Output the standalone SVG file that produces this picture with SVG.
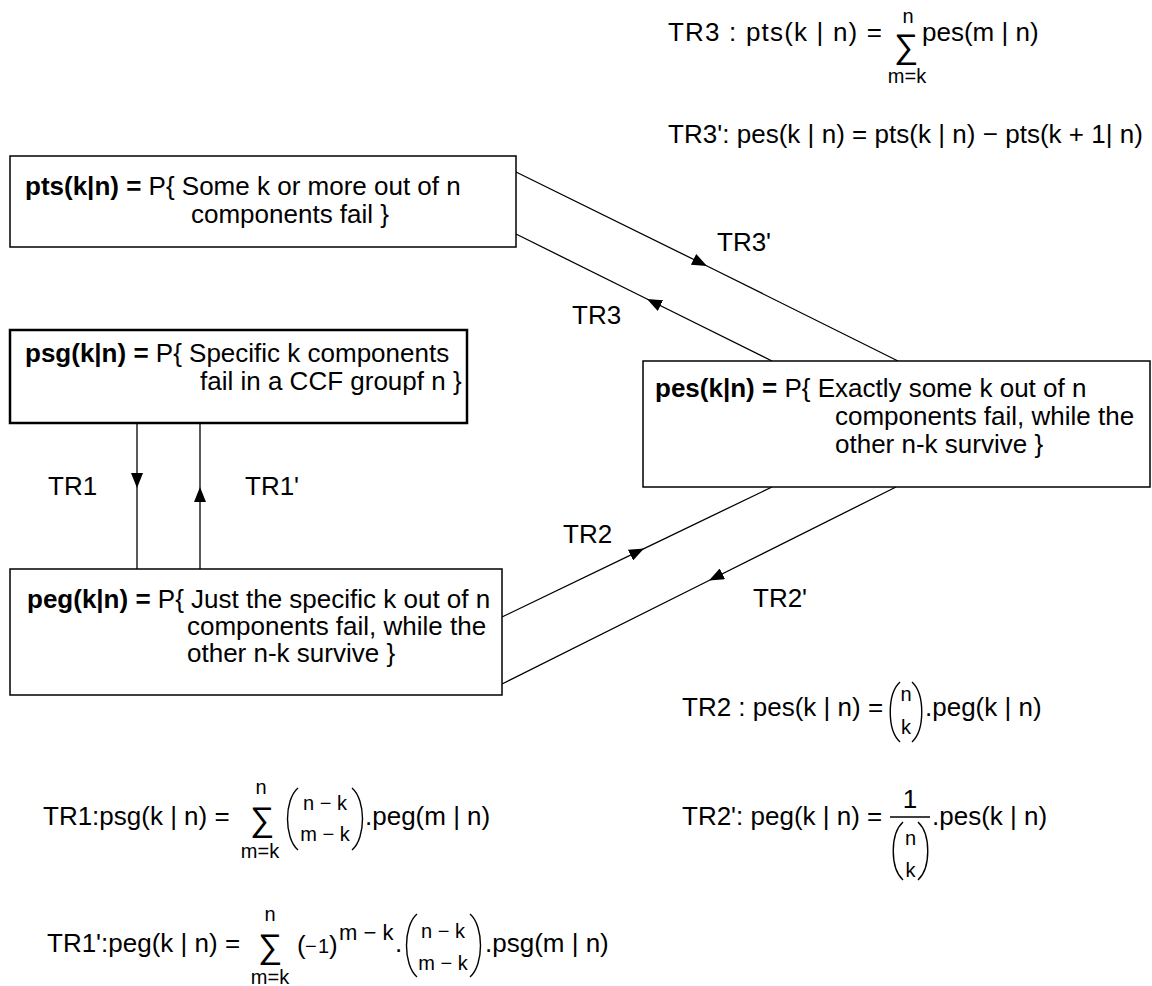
<svg xmlns="http://www.w3.org/2000/svg" width="1152" height="986" viewBox="0 0 1152 986">
  <style>
    text { font-family: "Liberation Sans", Arial, "DejaVu Sans", sans-serif; fill: #000; }
    .t { font-size: 26px; }
    .s { font-size: 20px; }
    .sig { font-size: 34px; }
    .b { font-weight: bold; }
    .mid { text-anchor: middle; }
    .box { fill: #fff; stroke: #000; stroke-width: 1.5; }
    .box2 { fill: #fff; stroke: #000; stroke-width: 2.5; }
    .con { fill: none; stroke: #000; stroke-width: 1.3; marker-mid: url(#ah); }
    .par { fill: none; stroke: #000; stroke-width: 1.4; }
  </style>
  <defs>
    <marker id="ah" markerUnits="userSpaceOnUse" viewBox="0 0 15 12" markerWidth="15" markerHeight="12" refX="15" refY="6" orient="auto">
      <path d="M0,0 L15,6 L0,12 z" fill="#000"/>
    </marker>
  </defs>
  <rect width="1152" height="986" fill="#fff"/>

  <!-- transition connectors -->
  <g id="connectors">
    <path class="con" d="M137,423 L137,488 L137,569"/>
    <path class="con" d="M200,569 L200,487 L200,423"/>
    <path class="con" d="M516,172 L707,266 L898,361"/>
    <path class="con" d="M772,361 L647,299 L516,234"/>
    <path class="con" d="M502,617 L644,548.6 L772,487"/>
    <path class="con" d="M896,487 L709,580.5 L502,684"/>
    <text class="t" x="717" y="251">TR3'</text>
    <text class="t" x="572" y="324">TR3</text>
    <text class="t" x="563" y="543">TR2</text>
    <text class="t" x="753" y="607">TR2'</text>
    <text class="t" x="48" y="495">TR1</text>
    <text class="t" x="245" y="495">TR1'</text>
  </g>

  <!-- probability nodes -->
  <g id="node-pts">
    <rect class="box" x="10" y="156" width="506" height="91"/>
    <text class="t" x="25" y="195"><tspan class="b">pts(k|n) =</tspan> P{ Some k or more out of n</text>
    <text class="t" x="191" y="223">components fail }</text>
  </g>
  <g id="node-psg">
    <rect class="box2" x="10" y="330" width="457" height="93"/>
    <text class="t" x="25" y="362"><tspan class="b">psg(k|n) =</tspan> P{ Specific k components</text>
    <text class="t" x="200" y="390">fail in a CCF groupf n }</text>
  </g>
  <g id="node-pes">
    <rect class="box" x="643" y="361" width="507" height="126"/>
    <text class="t" x="655" y="397"><tspan class="b">pes(k|n) =</tspan> P{ Exactly some k out of n</text>
    <text class="t" x="835" y="425">components fail, while the</text>
    <text class="t" x="835" y="453">other n-k survive }</text>
  </g>
  <g id="node-peg">
    <rect class="box" x="10" y="569" width="492" height="126"/>
    <text class="t" x="27" y="608"><tspan class="b">peg(k|n) =</tspan> P{ Just the specific k out of n</text>
    <text class="t" x="187" y="635">components fail, while the</text>
    <text class="t" x="187" y="662">other n-k survive }</text>
  </g>

  <!-- TR3 / TR3' formulas -->
  <g id="eq-tr3">
    <text class="t" x="668" y="41" textLength="214" lengthAdjust="spacing">TR3 :  pts(k | n) =</text>
    <text class="s mid" x="908" y="23">n</text>
    <text class="sig mid" x="906" y="58">∑</text>
    <text class="s mid" x="907" y="83">m=k</text>
    <text class="t" x="922" y="41">pes(m | n)</text>
  </g>
  <g id="eq-tr3p">
    <text class="t" x="668" y="143" textLength="475" lengthAdjust="spacing">TR3':  pes(k | n) = pts(k | n) − pts(k + 1| n)</text>
  </g>

  <!-- TR2 / TR2' formulas -->
  <g id="eq-tr2">
    <text class="t" x="682" y="716">TR2 :  pes(k | n) =</text>
    <path class="par" d="M900,682 C887,694 887,730 900,742"/>
    <text class="s mid" x="906" y="701">n</text>
    <text class="s mid" x="906" y="734">k</text>
    <path class="par" d="M912,682 C925,694 925,730 912,742"/>
    <text class="t" x="925" y="716">.peg(k | n)</text>
  </g>
  <g id="eq-tr2p">
    <text class="t" x="682" y="825">TR2':  peg(k | n) =</text>
    <text class="t mid" x="910" y="808">1</text>
    <line x1="890" y1="817" x2="930" y2="817" stroke="#000" stroke-width="1.5"/>
    <path class="par" d="M903,822 C890,834 890,868 903,880"/>
    <text class="s mid" x="910.5" y="845">n</text>
    <text class="s mid" x="910.5" y="877">k</text>
    <path class="par" d="M918,822 C931,834 931,868 918,880"/>
    <text class="t" x="932" y="825">.pes(k | n)</text>
  </g>

  <!-- TR1 / TR1' formulas -->
  <g id="eq-tr1">
    <text class="t" x="43" y="825">TR1:psg(k | n) =</text>
    <text class="s mid" x="261" y="794">n</text>
    <text class="sig mid" x="262" y="831">∑</text>
    <text class="s mid" x="260" y="858">m=k</text>
    <path class="par" d="M298,788 C284,800 284,838 298,850"/>
    <text class="s mid" x="325" y="810">n − k</text>
    <text class="s mid" x="325" y="841">m − k</text>
    <path class="par" d="M352,788 C366,800 366,838 352,850"/>
    <text class="t" x="365" y="825">.peg(m | n)</text>
  </g>
  <g id="eq-tr1p">
    <text class="t" x="47" y="952">TR1':peg(k | n) =</text>
    <text class="s mid" x="270" y="921">n</text>
    <text class="sig mid" x="270" y="958">∑</text>
    <text class="s mid" x="270" y="984">m=k</text>
    <text class="t" x="297" y="954">(</text>
    <text class="s" x="305" y="953">−</text>
    <text class="s" x="318" y="953">1</text>
    <text class="t" x="329" y="954">)</text>
    <text style="font-size:22px" x="339" y="940">m − k</text>
    <text class="t" x="395" y="952">.</text>
    <path class="par" d="M417,914 C403,926 403,965 417,977"/>
    <text class="s mid" x="443" y="938">n − k</text>
    <text class="s mid" x="443" y="970">m − k</text>
    <path class="par" d="M470,914 C484,926 484,965 470,977"/>
    <text class="t" x="485" y="952">.psg(m | n)</text>
  </g>
</svg>
